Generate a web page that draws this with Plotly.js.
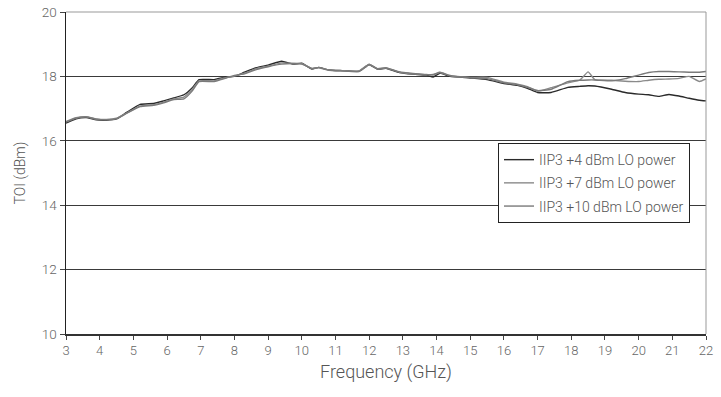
<!DOCTYPE html>
<html>
<head>
<meta charset="utf-8">
<script src="https://cdn.plot.ly/plotly-3.0.1.min.js"></script>
<style>
  html, body { margin: 0; padding: 0; background: #fff; }
  #chart { width: 721px; height: 397px; }
</style>
</head>
<body>
<div id="chart"></div>
<script>
// Frequency sweep points (GHz)
const freqGHz = [3, 3.3, 3.6, 3.9, 4.2, 4.5, 4.8, 5.2, 5.6, 5.9, 6.2, 6.5, 6.75, 6.95, 7.4, 7.7, 8.0, 8.3, 8.65, 9.0,
  9.4, 9.75, 10.0, 10.3, 10.5, 10.8, 11.2, 11.7, 12.0, 12.25, 12.5, 12.9, 13.3, 13.7, 13.9, 14.1, 14.4, 15.0, 15.5, 16.0,
  16.4, 16.7, 17.0, 17.4, 17.9, 18.25, 18.5, 18.7, 19.2, 19.6, 20.0, 20.3, 20.6, 20.9, 21.2, 21.5, 21.8, 22.0];

// Input third-order intercept (dBm) for each LO drive level
const toiLO4 = [16.55, 16.68, 16.72, 16.65, 16.64, 16.68, 16.88, 17.13, 17.16, 17.24, 17.33, 17.43, 17.65, 17.9, 17.9, 17.97, 18.0, 18.13, 18.27, 18.35,
  18.47, 18.38, 18.41, 18.23, 18.28, 18.2, 18.18, 18.16, 18.37, 18.22, 18.25, 18.12, 18.07, 18.04, 17.98, 18.1, 18.0, 17.95, 17.9, 17.78,
  17.72, 17.63, 17.5, 17.5, 17.66, 17.69, 17.71, 17.7, 17.6, 17.5, 17.45, 17.43, 17.38, 17.44, 17.39, 17.32, 17.26, 17.24];

const toiLO7 = [16.6, 16.72, 16.75, 16.68, 16.66, 16.7, 16.86, 17.08, 17.12, 17.2, 17.3, 17.36, 17.6, 17.86, 17.86, 17.95, 18.01, 18.1, 18.24, 18.32,
  18.42, 18.4, 18.4, 18.24, 18.28, 18.2, 18.18, 18.17, 18.38, 18.23, 18.26, 18.13, 18.08, 18.06, 18.04, 18.12, 18.02, 17.97, 17.97, 17.82,
  17.76, 17.68, 17.54, 17.65, 17.8, 17.88, 18.14, 17.9, 17.88, 17.85, 17.84, 17.88, 17.91, 17.92, 17.94, 18.0, 17.84, 17.92];

const toiLO10 = [16.58, 16.7, 16.74, 16.67, 16.65, 16.69, 16.85, 17.06, 17.1, 17.18, 17.28, 17.3, 17.55, 17.84, 17.84, 17.93, 18.03, 18.08, 18.21, 18.3,
  18.38, 18.4, 18.38, 18.25, 18.27, 18.19, 18.17, 18.15, 18.36, 18.24, 18.27, 18.14, 18.09, 18.05, 18.06, 18.13, 18.03, 17.96, 17.93, 17.8,
  17.74, 17.66, 17.56, 17.6, 17.84, 17.88, 17.89, 17.89, 17.86, 17.93, 18.04, 18.12, 18.15, 18.15, 18.14, 18.13, 18.13, 18.15];

const seriesNames = ['IIP3 +4 dBm LO power', 'IIP3 +7 dBm LO power', 'IIP3 +10 dBm LO power'];
const seriesColors = ['#2a2a2a', '#8a8a8a', '#7a7a7a'];
const xTicks = [3, 4, 5, 6, 7, 8, 9, 10, 11, 12, 13, 14, 15, 16, 17, 18, 19, 20, 21, 22];
const yTicks = [10, 12, 14, 16, 18, 20];

const font = 'Roboto, "DejaVu Sans", sans-serif';

const traces = [toiLO4, toiLO7, toiLO10].map((vals, i) => ({
  type: 'scatter',
  mode: 'lines',
  x: freqGHz,
  y: vals,
  name: seriesNames[i],
  legendgroup: 'g' + i,
  line: { color: seriesColors[i], width: 1.4, shape: 'spline', smoothing: 0.4 }
}));

const layout = {
  width: 721,
  height: 397,
  margin: { l: 66, r: 15, t: 12, b: 63 },
  paper_bgcolor: '#fff',
  plot_bgcolor: '#fff',
  showlegend: true,
  legend: {
    x: 0.675, y: 0.593, xanchor: 'left', yanchor: 'top',
    bgcolor: '#fff', bordercolor: '#222', borderwidth: 1,
    font: { family: font, size: 14, color: '#555', weight: 300 },
    tracegroupgap: 2,
    traceorder: 'grouped',
    itemwidth: 30
  },
  xaxis: {
    range: [3, 22],
    tickvals: xTicks,
    ticktext: xTicks.map(String),
    ticks: 'outside', ticklen: 4, tickcolor: '#444', tickwidth: 1,
    showgrid: false, zeroline: false,
    showline: true, linecolor: '#333', linewidth: 1.5,
    tickfont: { family: font, size: 13, color: '#666', weight: 300 },
    title: { text: 'Frequency (GHz)', font: { family: font, size: 18, color: '#555', weight: 300 }, standoff: 8 }
  },
  yaxis: {
    range: [10, 20],
    tickvals: yTicks,
    ticks: 'outside', ticklen: 5, tickcolor: '#444', tickwidth: 1,
    showgrid: true, gridcolor: '#3a3a3a', gridwidth: 1,
    zeroline: false,
    showline: true, linecolor: '#222', linewidth: 1.5,
    tickfont: { family: font, size: 13.5, color: '#666', weight: 300 },
    title: { text: 'TOI (dBm)', font: { family: font, size: 14, color: '#555', weight: 300 }, standoff: 13 }
  },
  shapes: [
    { type: 'line', xref: 'paper', yref: 'paper', x0: 0, x1: 1, y0: 1, y1: 1, line: { color: '#999', width: 1 } },
    { type: 'line', xref: 'paper', yref: 'paper', x0: 1, x1: 1, y0: 0, y1: 1, line: { color: '#999', width: 1 } }
  ]
};

Plotly.newPlot('chart', traces, layout, { displayModeBar: false, staticPlot: true });
</script>
</body>
</html>
